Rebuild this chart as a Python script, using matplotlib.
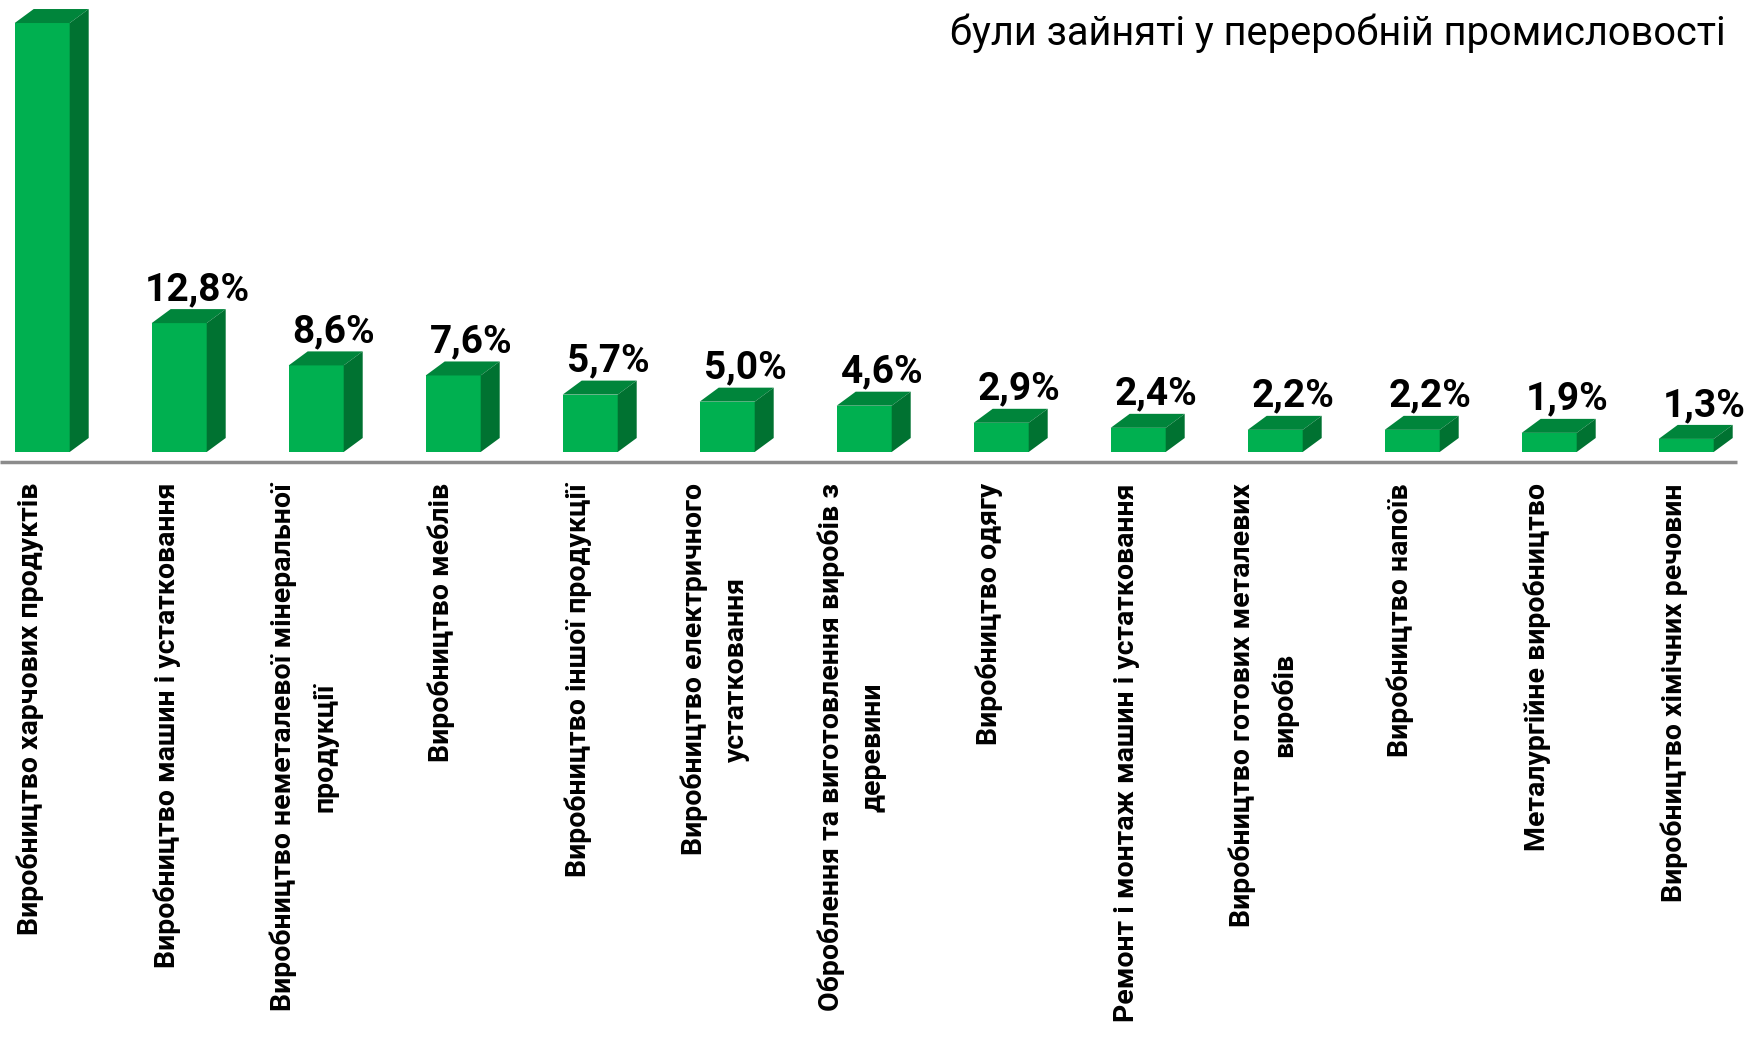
import matplotlib
matplotlib.use("Agg")
import matplotlib.pyplot as plt
from matplotlib.patches import Polygon

# ---- data ----
categories = [
    "Виробництво харчових продуктів",
    "Виробництво машин і устатковання",
    "Виробництво неметалевої мінеральної\nпродукції",
    "Виробництво меблів",
    "Виробництво іншої продукції",
    "Виробництво електричного\nустатковання",
    "Оброблення та виготовлення виробів з\nдеревини",
    "Виробництво одягу",
    "Ремонт і монтаж машин і устатковання",
    "Виробництво готових металевих\nвиробів",
    "Виробництво напоїв",
    "Металургійне виробництво",
    "Виробництво хімічних речовин",
]
values = [42.6, 12.8, 8.6, 7.6, 5.7, 5.0, 4.6, 2.9, 2.4, 2.2, 2.2, 1.9, 1.3]
value_labels = ["", "12,8%", "8,6%", "7,6%", "5,7%", "5,0%", "4,6%",
                "2,9%", "2,4%", "2,2%", "2,2%", "1,9%", "1,3%"]
subtitle = "були зайняті у переробній промисловості"

# ---- style ----
FONT = ["Roboto", "DejaVu Sans"]
C_FRONT = "#00B050"
C_TOP = "#00853B"
C_SIDE = "#007231"

W, H = 1752, 1043
fig = plt.figure(figsize=(W / 100, H / 100), dpi=100)
ax = fig.add_axes([0, (H - 463) / H, 1, 463 / H])
ax.set_axis_off()

px_per_cat = 137.0
px_per_unit = 10.07
xmin = -42.2 / px_per_cat
ax.set_xlim(xmin, xmin + W / px_per_cat)
ax.set_ylim(-11 / px_per_unit, 452 / px_per_unit)

bw = 55 / px_per_cat
dx = 19 / px_per_cat
dy = 14 / px_per_unit

xs = list(range(len(values)))
bars = ax.bar(xs, values, width=bw, color=C_FRONT, zorder=3, linewidth=0)
for b, v, lab in zip(bars, values, value_labels):
    x0 = b.get_x()
    x1 = x0 + b.get_width()
    top = b.get_height()
    ax.add_patch(Polygon([(x0, top), (x1, top), (x1 + dx, top + dy), (x0 + dx, top + dy)],
                         closed=True, facecolor=C_TOP, edgecolor="none", zorder=3))
    ax.add_patch(Polygon([(x1, 0), (x1 + dx, dy), (x1 + dx, top + dy), (x1, top)],
                         closed=True, facecolor=C_SIDE, edgecolor="none", zorder=3))
    if lab:
        ax.text((x0 + x1 + dx) / 2 + 0.06, top + dy + 0.9, lab, ha="center", va="baseline",
                fontsize=28, fontweight="bold", family=FONT, color="black", clip_on=False)

# baseline
ax.plot([xmin, xmin + 1737 / px_per_cat], [-1.0, -1.0], color="#8C8C8C", lw=2.5,
        solid_capstyle="butt", zorder=2, clip_on=False)

# category labels
for x, cat in zip(xs, categories):
    ax.text(x - 12 / px_per_cat, -31 / px_per_unit, cat, rotation=90, ha="center", va="top",
            multialignment="center", linespacing=1.68, fontsize=20.5, fontweight="bold",
            family=FONT, color="black", clip_on=False)

fig.text(1726 / W, 1 - 45 / H, subtitle, ha="right", va="baseline", fontsize=28.7,
         family=FONT, color="black")

fig.savefig("out.png", dpi=100)
